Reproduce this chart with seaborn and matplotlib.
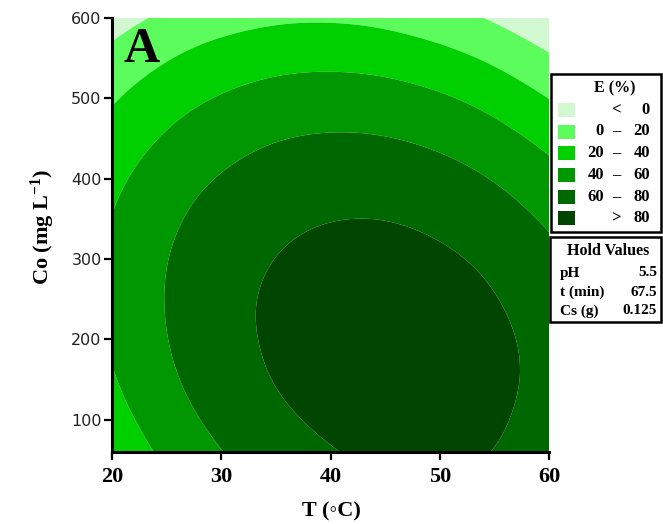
import numpy as np
import pandas as pd
import seaborn as sns
import matplotlib
matplotlib.use("Agg")
import matplotlib.pyplot as plt
import matplotlib.tri as mtri
from matplotlib.patches import Rectangle

# ---------------- data ----------------
T_values = [20, 25, 30, 35, 40, 45, 50, 55, 60]            # T (°C)
Co_values = [60, 120, 180, 240, 300, 360, 420, 480, 540, 600]  # Co (mg/L)
# E (%) estimated at each (Co row, T column)
E_grid = [
    [25.1, 44.2, 59.5, 70.9, 79.0, 82.6, 82.6, 79.6, 71.5],
    [34.6, 53.0, 67.5, 78.2, 85.1, 88.1, 87.4, 82.8, 74.3],
    [40.9, 58.5, 72.2, 82.2, 88.3, 90.6, 89.1, 83.8, 74.6],
    [43.8, 60.6, 73.7, 82.9, 88.2, 89.8, 87.5, 81.4, 71.5],
    [43.3, 59.5, 71.7, 80.2, 84.8, 85.6, 82.6, 75.8, 65.1],
    [39.6, 55.0, 66.5, 74.2, 78.1, 78.2, 74.4, 66.8, 55.4],
    [32.5, 47.2, 57.9, 64.9, 68.0, 67.3, 62.8, 54.5, 42.3],
    [22.1, 36.0, 46.0, 52.3, 54.6, 53.2, 48.0, 38.9, 25.9],
    [8.4, 21.5, 30.8, 36.3, 37.9, 35.7, 29.7, 19.9, 6.2],
    [-8.6, 3.8, 12.3, 17.0, 17.9, 15.0, 8.2, -2.4, -16.8],
]
level_bounds = [-1000, 0, 20, 40, 60, 80, 1000]
legend_left = ["", "0", "20", "40", "60", ""]
legend_mid = ["<", "–", "–", "–", "–", ">"]
legend_right = ["0", "20", "40", "60", "80", "80"]
hold_names = ["pH", "t (min)", "Cs (g)"]
hold_vals = ["5.5", "67.5", "0.125"]
x_ticks = [20, 30, 40, 50, 60]
y_ticks = [100, 200, 300, 400, 500, 600]

# ---------------- style ----------------
colors = ["#d2f8d2", "#5cfc5c", "#00cf00", "#009700", "#006800", "#004600"]
sns.set_theme(style="ticks")
plt.rcParams["font.family"] = ["Liberation Serif", "DejaVu Serif"]
plt.rcParams["text.color"] = "black"
plt.rcParams["mathtext.fontset"] = "custom"
plt.rcParams["mathtext.rm"] = "Liberation Serif:bold"
plt.rcParams["mathtext.bf"] = "Liberation Serif:bold"
plt.rcParams["mathtext.it"] = "Liberation Serif:bold"

W, H = 663, 524
fig = plt.figure(figsize=(W / 100, H / 100), dpi=100)
fig.patch.set_facecolor("white")

def fx(px):
    return px / W

def fy(py):
    return 1 - py / H

L, R, TOP, BOT = 112, 549, 18, 452
ax = fig.add_axes([fx(L), fy(BOT), (R - L) / W, (BOT - TOP) / H])

# long-form table
df = (pd.DataFrame(E_grid, index=Co_values, columns=T_values)
      .stack().rename("E").reset_index()
      .rename(columns={"level_0": "Co", "level_1": "T"}))

# triangulate in normalised coordinates, smooth with library refiner
tx = (df["T"].values - min(T_values)) / (max(T_values) - min(T_values))
ty = (df["Co"].values - min(Co_values)) / (max(Co_values) - min(Co_values))
tri = mtri.Triangulation(tx, ty)
refiner = mtri.UniformTriRefiner(tri)
tri_ref, z_ref = refiner.refine_field(df["E"].values, subdiv=4)
T_ref = min(T_values) + tri_ref.x * (max(T_values) - min(T_values))
C_ref = min(Co_values) + tri_ref.y * (max(Co_values) - min(Co_values))
tri_data = mtri.Triangulation(T_ref, C_ref, triangles=tri_ref.triangles)
ax.tricontourf(tri_data, z_ref, levels=level_bounds, colors=colors, antialiased=True)

ax.set_xlim(20, 60)
ax.set_ylim(60, 600)
ax.set_xticks(x_ticks)
ax.set_yticks(y_ticks)
ax.set_xticklabels([str(v) for v in x_ticks], fontsize=16, fontweight="bold",
                   family=["Liberation Serif"], color="black")
ax.set_yticklabels([str(v) for v in y_ticks], fontsize=11.5, family=["DejaVu Sans"],
                   color="#222222")
for s in ["top", "right"]:
    ax.spines[s].set_visible(False)
for s in ["left", "bottom"]:
    ax.spines[s].set_color("black")
    ax.spines[s].set_linewidth(2.2)
ax.tick_params(axis="both", direction="out", length=6, width=1.6, color="black")
ax.tick_params(axis="y", pad=1.5)
ax.tick_params(axis="x", pad=5)

# panel letter
fig.text(fx(123), fy(62), "A", fontsize=36, fontweight="bold", ha="left",
         va="baseline", color="black", family=["Liberation Serif"])

# axis labels
fig.text(fx(331), fy(516), "T (◦C)", fontsize=16, fontweight="bold", ha="center",
         va="baseline", color="black", family=["Liberation Serif", "DejaVu Serif"])
fig.text(fx(43), fy(227), r"Co (mg L$^{-1}$)", fontsize=16, fontweight="bold",
         rotation=90, ha="center", va="center", color="black",
         family=["Liberation Serif"])

# legend box
fig.add_artist(Rectangle((fx(551), fy(232)), (661 - 551) / W, (232 - 74) / H,
                         transform=fig.transFigure, facecolor="white",
                         edgecolor="black", linewidth=1.8))
fig.text(fx(615), fy(88), "E (%)", fontsize=11.5, fontweight="bold", ha="center",
         va="center", color="black", family=["Liberation Serif"])
row_y = [110, 131.5, 153, 175, 197, 218]
for c, ly, lt, mt, rt in zip(colors, row_y, legend_left, legend_mid, legend_right):
    fig.add_artist(Rectangle((fx(558), fy(ly + 7)), 17 / W, 14 / H,
                             transform=fig.transFigure, facecolor=c,
                             edgecolor="none"))
    if lt:
        fig.text(fx(604), fy(ly), lt, fontsize=12, fontweight="bold",
                 ha="right", va="center", color="black", family=["Liberation Serif"])
    fig.text(fx(616), fy(ly), mt, fontsize=12, fontweight="bold",
             ha="center", va="center", color="black", family=["Liberation Serif"])
    fig.text(fx(650), fy(ly), rt, fontsize=12, fontweight="bold",
             ha="right", va="center", color="black", family=["Liberation Serif"])

# hold values box
fig.add_artist(Rectangle((fx(550), fy(322)), (661 - 550) / W, (322 - 237) / H,
                         transform=fig.transFigure, facecolor="white",
                         edgecolor="black", linewidth=1.8))
fig.text(fx(608), fy(251), "Hold Values", fontsize=11.5, fontweight="bold",
         ha="center", va="center", color="black", family=["Liberation Serif"])
for ny, nm, vl in zip([273, 292, 311], hold_names, hold_vals):
    fig.text(fx(560), fy(ny), nm, fontsize=11, fontweight="bold", ha="left",
             va="center", color="black", family=["Liberation Serif"])
    fig.text(fx(657), fy(ny), vl, fontsize=11, fontweight="bold", ha="right",
             va="center", color="black", family=["Liberation Serif"])

fig.savefig("out.png", dpi=100, facecolor="white")
